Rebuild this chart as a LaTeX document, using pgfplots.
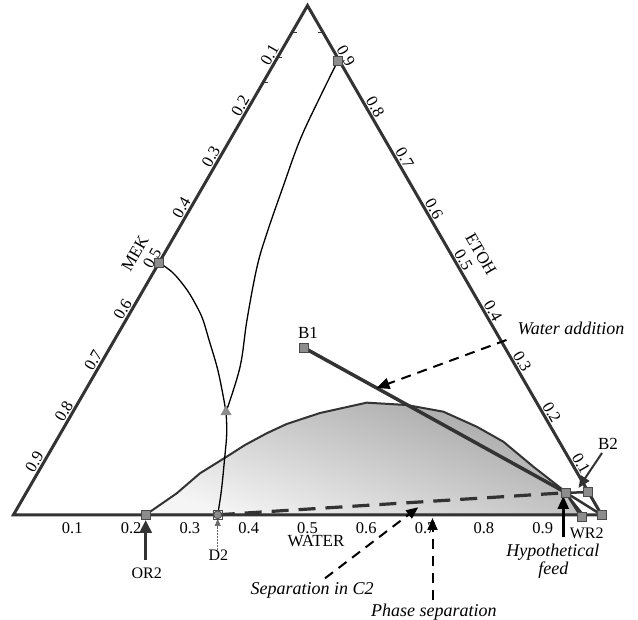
\documentclass[border=0pt]{standalone}
\usepackage{fontspec}
\setmainfont{Liberation Serif}
\usepackage{pgfplots}
\pgfplotsset{compat=1.18}
\usepackage{pgfplotstable}
\usetikzlibrary{arrows.meta}

\definecolor{edge}{HTML}{333333}
\definecolor{mk}{HTML}{8C8C8C}
\definecolor{mkd}{HTML}{4A4A4A}

% ternary data: w = water fraction, e = ethanol fraction (MEK = 1-w-e)
\pgfplotstableread{
w e
0.2248 0
0.2565 0.0422
0.2764 0.0815
0.3055 0.1141
0.3252 0.1371
0.3506 0.1601
0.3754 0.1783
0.4213 0.1999
0.4906 0.2202
0.5609 0.2156
0.6298 0.2025
0.7013 0.1730
0.7612 0.1436
0.8368 0.0945
0.9106 0.0487
0.9498 0.0159
0.9690 0
}\binodal

\pgfplotstableread{
w e
1 0
0 1
0 0
}\sides

\pgfplotstableread{
w e
0 0.4951
0.0339 0.4749
0.0744 0.4415
0.1081 0.4081
0.1310 0.3826
0.1609 0.3433
0.2010 0.2903
0.2321 0.2451
0.2605 0.2019
}\rcA

\pgfplotstableread{
w e
0.2605 0.2019
0.2826 0.1601
0.3050 0.1076
0.3293 0.0487
0.3473 0
}\rcC

\pgfplotstableread{
w e
0.106 0.892
0.1111 0.8205
0.1192 0.7361
0.1364 0.6438
0.1544 0.5534
0.1708 0.4867
0.2058 0.3826
0.2401 0.2903
0.2605 0.2019
}\rcB

\pgfplotstableread{
w e
0.2248 0
0.9685 -0.005
0.330 0.328
0.918 0.0434
0.9544 0.0442
1 0
0.106 0.892
0 0.4951
}\squares

\newcommand{\tx}{\thisrow{w}+0.5*\thisrow{e}}
\newcommand{\ty}{0.8660254*\thisrow{e}}

\begin{document}
\begin{tikzpicture}
\begin{axis}[
  scale only axis, width=638bp, height=620bp,
  xmin=-0.02296, xmax=1.0621, ymin=-0.1789, ymax=0.8755,
  hide axis, clip=false,
]
% binodal (two-liquid region)
\addplot[draw=edge, line width=2bp, top color=black!36, bottom color=black!4, shading angle=-20]
  table[x expr={\tx}, y expr={\ty}] {\binodal} \closedcycle;

% triangle
\addplot[draw=edge, line width=3bp] table[x expr={\tx}, y expr={\ty}] {\sides} \closedcycle;

% residue curves / distillation boundaries
\addplot[black, line width=1.3bp, smooth, tension=0.6] table[x expr={\tx}, y expr={\ty}] {\rcA};
\addplot[black, line width=1.3bp, smooth, tension=0.6] table[x expr={\tx}, y expr={\ty}] {\rcB};
\addplot[black, line width=1.3bp, smooth, tension=0.6] table[x expr={\tx}, y expr={\ty}] {\rcC};

% mass balance lines
\addplot[edge, line width=3.5bp] table[x expr={\tx}, y expr={\ty}, row sep=\\] {w e\\ 0.330 0.328\\ 0.918 0.0434\\};
\addplot[edge, line width=2.5bp] table[x expr={\tx}, y expr={\ty}, row sep=\\] {w e\\ 0.918 0.0434\\ 1 0\\};
\addplot[edge, line width=2.5bp] table[x expr={\tx}, y expr={\ty}, row sep=\\] {w e\\ 0.918 0.0434\\ 0.9685 -0.005\\};
\addplot[edge, line width=2.5bp] table[x expr={\tx}, y expr={\ty}, row sep=\\] {w e\\ 0.918 0.0434\\ 0.9544 0.0442\\};
\addplot[edge, line width=3.2bp, dash pattern=on 17bp off 10bp] table[x expr={\tx}, y expr={\ty}, row sep=\\] {w e\\ 0.3473 0\\ 0.918 0.0434\\};

% markers
\addplot[only marks, mark=square*, mark size=4.5bp, mark options={fill=mk, draw=mkd, line width=0.8bp}]
  table[x expr={\tx}, y expr={\ty}] {\squares};
\addplot[only marks, mark=square, mark size=4.5bp, mark options={draw=mkd, line width=0.8bp}]
  table[x expr={\tx}, y expr={\ty}, row sep=\\] {w e\\ 0.3473 0\\};
\addplot[only marks, mark=*, mark size=4bp, mark options={fill=mk, draw=mkd, line width=0.8bp}]
  table[x expr={\tx}, y expr={\ty}, row sep=\\] {w e\\ 0.3473 0\\};
\addplot[only marks, mark=triangle*, mark size=6bp, mark options={fill=mk, draw=mk, line width=0.5bp}]
  table[x expr={\tx}, y expr={\ty}, row sep=\\] {w e\\ 0.2605 0.2019\\};

% small ticks near the apex
\draw[edge, line width=1bp] (axis cs:0.4738,0.8207) -- (axis cs:0.4823,0.8207);
\draw[edge, line width=1bp] (axis cs:0.4489,0.7774) -- (axis cs:0.4574,0.7774);
\draw[edge, line width=1bp] (axis cs:0.4240,0.7344) -- (axis cs:0.4325,0.7344);
\draw[edge, line width=1bp] (axis cs:0.5262,0.8207) -- (axis cs:0.5177,0.8207);
\draw[edge, line width=1bp] (axis cs:0.5525,0.7751) -- (axis cs:0.5440,0.7751);

% tick labels
\begin{scope}[font=\fontsize{16.5bp}{18bp}\selectfont]
\node[yshift=-13.5bp] at (axis cs:0.1,0) {0.1};
\node[yshift=-13.5bp] at (axis cs:0.2,0) {0.2};
\node[yshift=-13.5bp] at (axis cs:0.3,0) {0.3};
\node[yshift=-13.5bp] at (axis cs:0.4,0) {0.4};
\node[yshift=-13.5bp] at (axis cs:0.5,0) {0.5};
\node[yshift=-13.5bp] at (axis cs:0.6,0) {0.6};
\node[yshift=-13.5bp] at (axis cs:0.7,0) {0.7};
\node[yshift=-13.5bp] at (axis cs:0.8,0) {0.8};
\node[yshift=-13.5bp] at (axis cs:0.9,0) {0.9};

\node[xshift=-8.4bp, yshift=1.8bp, rotate=60] at (axis cs:0.45,0.77942) {0.1};
\node[xshift=-8.4bp, yshift=1.8bp, rotate=60] at (axis cs:0.40,0.69282) {0.2};
\node[xshift=-8.4bp, yshift=1.8bp, rotate=60] at (axis cs:0.35,0.60622) {0.3};
\node[xshift=-8.4bp, yshift=1.8bp, rotate=60] at (axis cs:0.30,0.51962) {0.4};
\node[xshift=-8.4bp, yshift=1.8bp, rotate=60] at (axis cs:0.25,0.43301) {0.5};
\node[xshift=-8.4bp, yshift=1.8bp, rotate=60] at (axis cs:0.20,0.34641) {0.6};
\node[xshift=-8.4bp, yshift=1.8bp, rotate=60] at (axis cs:0.15,0.25981) {0.7};
\node[xshift=-8.4bp, yshift=1.8bp, rotate=60] at (axis cs:0.10,0.17321) {0.8};
\node[xshift=-8.4bp, yshift=1.8bp, rotate=60] at (axis cs:0.05,0.08660) {0.9};

\node[xshift=9bp, yshift=0.5bp, rotate=-60] at (axis cs:0.95,0.08660) {0.1};
\node[xshift=9bp, yshift=0.5bp, rotate=-60] at (axis cs:0.90,0.17321) {0.2};
\node[xshift=9bp, yshift=0.5bp, rotate=-60] at (axis cs:0.85,0.25981) {0.3};
\node[xshift=9bp, yshift=0.5bp, rotate=-60] at (axis cs:0.80,0.34641) {0.4};
\node[xshift=9bp, yshift=0.5bp, rotate=-60] at (axis cs:0.75,0.43301) {0.5};
\node[xshift=9bp, yshift=0.5bp, rotate=-60] at (axis cs:0.70,0.51962) {0.6};
\node[xshift=9bp, yshift=0.5bp, rotate=-60] at (axis cs:0.65,0.60622) {0.7};
\node[xshift=9bp, yshift=0.5bp, rotate=-60] at (axis cs:0.60,0.69282) {0.8};
\node[xshift=9bp, yshift=0.5bp, rotate=-60] at (axis cs:0.55,0.77942) {0.9};
\end{scope}

% axis titles and point names
\begin{scope}[font=\fontsize{17bp}{19bp}\selectfont]
\node[rotate=60] at (axis cs:0.2066,0.4452) {MEK};
\node[rotate=-60] at (axis cs:0.7951,0.4435) {ETOH};
\node at (axis cs:0.5145,-0.0446) {WATER};
\node at (axis cs:0.5009,0.3092) {B1};
\node at (axis cs:1.0111,0.1204) {B2};
\end{scope}
\begin{scope}[font=\fontsize{16bp}{18bp}\selectfont]
\node at (axis cs:0.9748,-0.0315) {WR2};
\node at (axis cs:0.2265,-0.0995) {OR2};
\node at (axis cs:0.3483,-0.0684) {D2};
\end{scope}
\begin{scope}[font=\fontsize{18bp}{20bp}\selectfont\itshape]
\node at (axis cs:0.9481,0.3172) {Water addition};
\node at (axis cs:0.9175,-0.0628) {Hypothetical};
\node at (axis cs:0.9180,-0.0939) {feed};
\node at (axis cs:0.5077,-0.1279) {Separation in C2};
\node at (axis cs:0.7151,-0.1648) {Phase separation};
\end{scope}

% arrows
\draw[black, line width=2bp, dash pattern=on 10bp off 7bp, -{Triangle[length=13bp,width=11bp]}]
  (axis cs:0.8384,0.2973) -- (axis cs:0.6173,0.2156);
\draw[black, line width=2bp, dash pattern=on 10bp off 7bp, -{Triangle[length=12bp,width=10bp]}]
  (axis cs:0.5298,-0.108) -- (axis cs:0.6884,0.0128);
\draw[black, line width=2bp, dash pattern=on 10bp off 7bp, -{Triangle[length=12bp,width=10bp]}]
  (axis cs:0.7126,-0.1449) -- (axis cs:0.7126,-0.0054);
\draw[black, line width=2.5bp, -{Triangle[length=13bp,width=11bp]}]
  (axis cs:0.935,-0.0378) -- (axis cs:0.935,0.032);
\draw[edge, line width=3bp, -{Triangle[length=13bp,width=12bp]}]
  (axis cs:0.2248,-0.0769) -- (axis cs:0.2248,-0.0088);
\draw[black!60, line width=0.6bp, dash pattern=on 2bp off 1bp, -{Triangle[length=7bp,width=6bp]}]
  (axis cs:0.3473,-0.0599) -- (axis cs:0.3473,-0.0071);
\draw[edge, line width=2bp, -{Triangle[length=12bp,width=10bp]}]
  (axis cs:1.0009,0.1051) -- (axis cs:0.9609,0.0456);
\end{axis}
\pgfresetboundingbox
\useasboundingbox (0,0) rectangle (638bp,620bp);
\end{tikzpicture}
\end{document}
